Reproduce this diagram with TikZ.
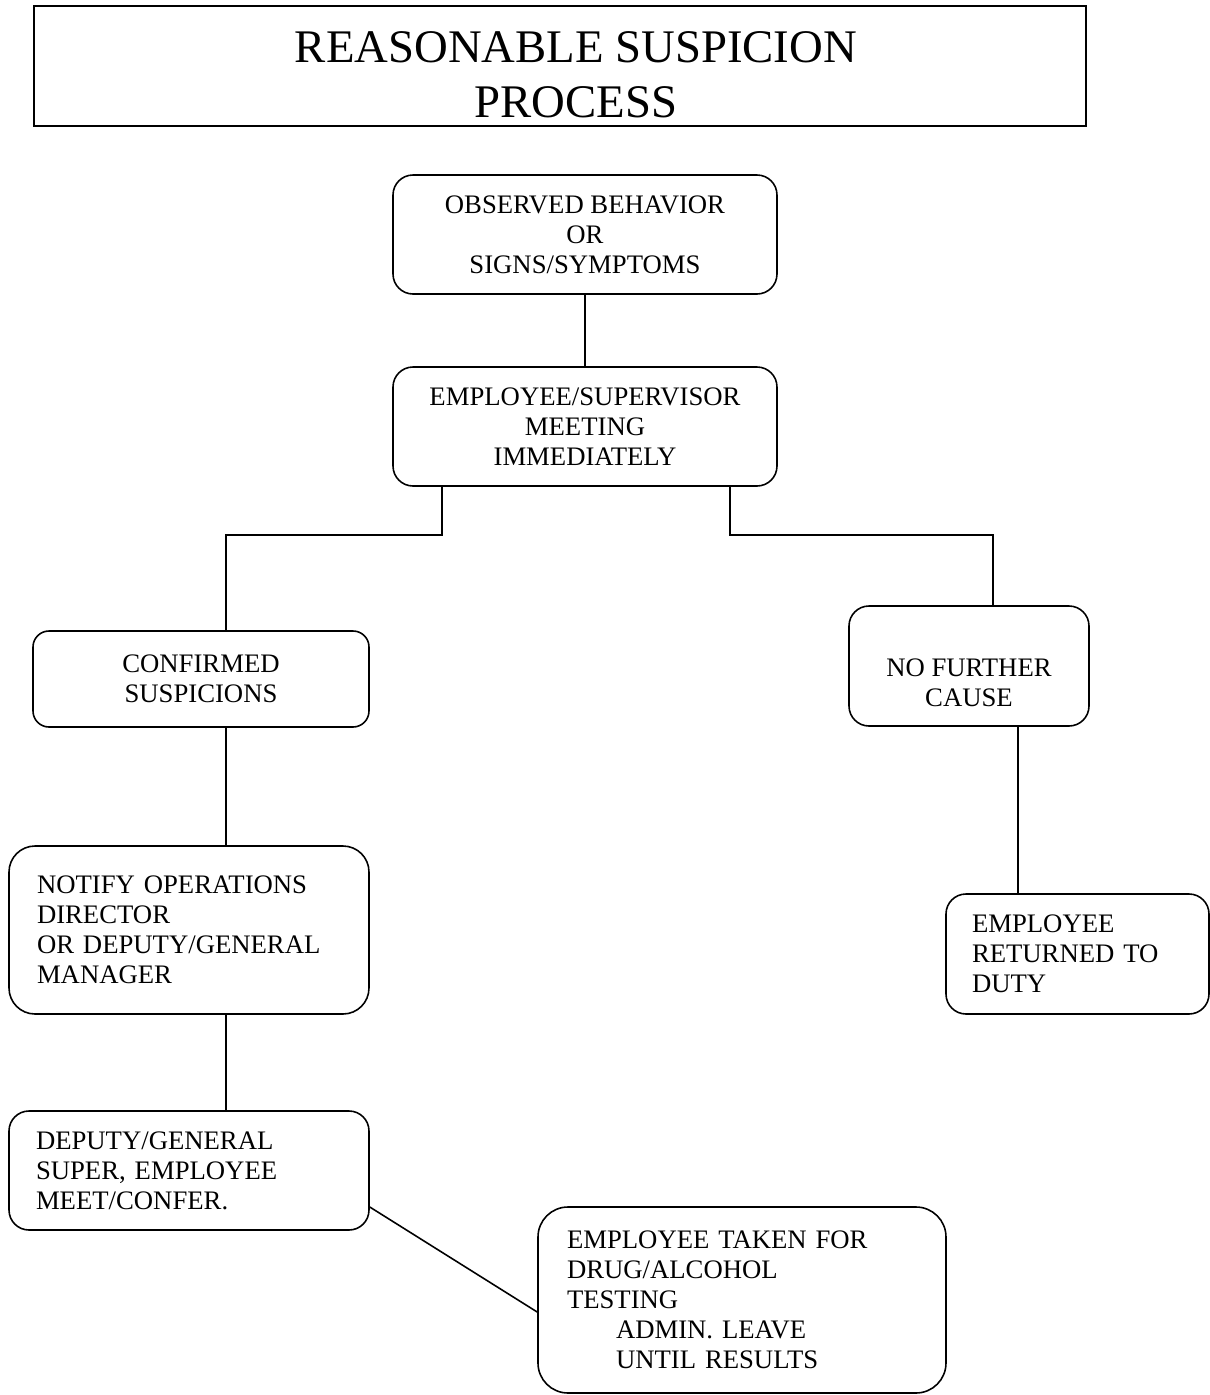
\documentclass[tikz,border=0pt]{standalone}
\usepackage{fontspec}
\setmainfont{Liberation Serif}
\usetikzlibrary{positioning}
\tikzset{
  titlebox/.style={
    draw=black,
    line width=1.1pt,
    align=center,
    minimum width=21.04cm,
    minimum height=2.4cm,
    inner sep=0pt,
    font=\fontsize{26.6}{31.3}\selectfont
  },
  flowbox/.style={
    draw=black,
    line width=0.9pt,
    rounded corners=0.4cm,
    align=center,
    inner sep=0pt,
    font=\fontsize{15.2}{17.07}\selectfont
  },
  notebox/.style={
    draw=black,
    line width=0.9pt,
    rounded corners=0.4cm,
    align=left,
    inner ysep=0pt,
    font=\fontsize{15.2}{17.07}\selectfont
  },
  link/.style={
    line width=0.9pt
  }
}

\begin{document}
\begin{tikzpicture}
  \useasboundingbox (0,0) rectangle (24.2,-27.9);
  \node[titlebox, text height=2.06cm] (title) at (11.2,-1.32) {\hspace*{0.64cm}REASONABLE SUSPICION\\\hspace*{0.64cm}PROCESS};
  \node[flowbox, minimum width=7.68cm, minimum height=2.38cm] (observed) at (11.7,-4.69) {OBSERVED BEHAVIOR\\OR\\SIGNS/SYMPTOMS};
  \node[flowbox, minimum width=7.68cm, minimum height=2.38cm] (meeting) at (11.7,-8.53) {EMPLOYEE/SUPERVISOR\\MEETING\\IMMEDIATELY};
  \node[flowbox, minimum width=6.72cm, minimum height=1.92cm, rounded corners=0.32cm] (confirmed) at (4.02,-13.58) {CONFIRMED\\SUSPICIONS};
  \node[flowbox, minimum width=4.8cm, minimum height=2.4cm, text height=1.62cm] (nocause) at (19.38,-13.32) {NO FURTHER\\CAUSE};
  \node[notebox, inner xsep=0.56cm, text width=6.08cm, minimum height=3.36cm, rounded corners=0.52cm] (notify) at (3.78,-18.6) {NOTIFY OPERATIONS\\DIRECTOR\\OR DEPUTY/GENERAL\\MANAGER};
  \node[notebox, inner xsep=0.52cm, text width=4.22cm, minimum height=2.4cm] (returned) at (21.55,-19.08) {EMPLOYEE\\RETURNED TO\\DUTY};
  \node[notebox, inner xsep=0.54cm, text width=6.12cm, minimum height=2.38cm] (conferral) at (3.78,-23.41) {DEPUTY/GENERAL\\SUPER, EMPLOYEE\\MEET/CONFER.};
  \node[notebox, inner xsep=0.58cm, text width=7.0cm, minimum height=3.72cm, rounded corners=0.6cm] (testing) at (14.84,-26.0) {EMPLOYEE TAKEN FOR\\DRUG/ALCOHOL\\TESTING\\\hspace*{0.98cm}ADMIN. LEAVE\\\hspace*{0.98cm}UNTIL RESULTS};

  \draw[link] (observed) -- (meeting);
  \draw[link] ([xshift=-2.86cm]meeting.south) -- ++(0,-0.96) -| ([xshift=0.5cm]confirmed.north);
  \draw[link] ([xshift=2.9cm]meeting.south) -- ++(0,-0.96) -| ([xshift=0.48cm]nocause.north);
  \draw[link] ([xshift=0.5cm]confirmed.south) -- ([xshift=0.5cm]confirmed.south |- notify.north);
  \draw[link] ([xshift=0.98cm]nocause.south) -- ([xshift=0.98cm]nocause.south |- returned.north);
  \draw[link] ([xshift=0.74cm]notify.south) -- ([xshift=0.74cm]notify.south |- conferral.north);
  \draw[link] ([yshift=-0.73cm]conferral.east) -- ([yshift=-0.24cm]testing.west);
\end{tikzpicture}
\end{document}
